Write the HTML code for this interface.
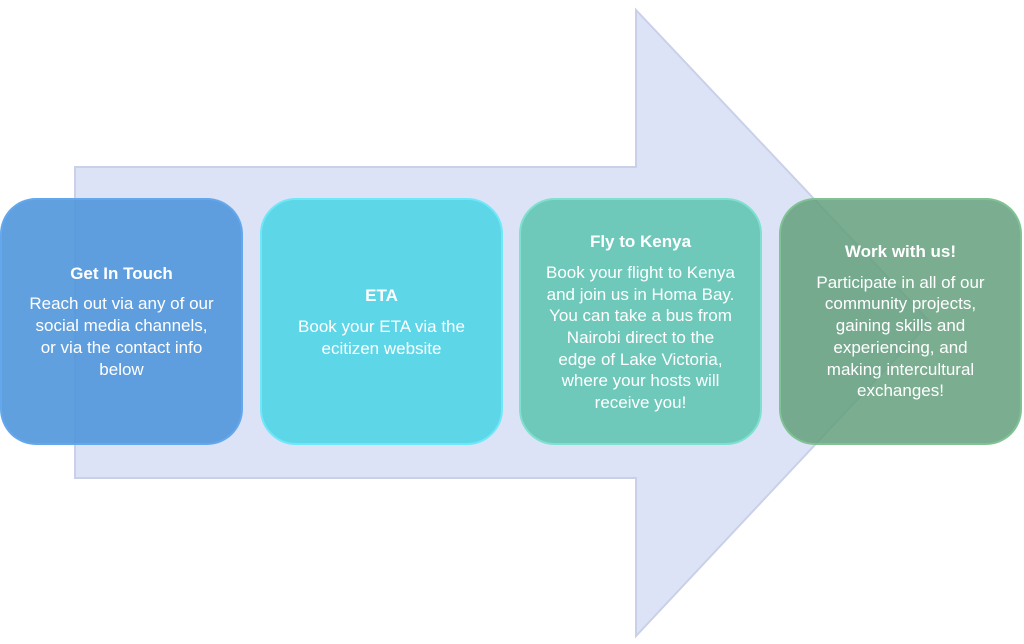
<!DOCTYPE html>
<html><head><style>
body{margin:0;width:1024px;height:644px;background:#fff;position:relative;overflow:hidden;font-family:"Liberation Sans",sans-serif}
.b{position:absolute;top:198px;width:243px;height:247px;border-radius:36px;box-sizing:border-box;color:#fff;text-align:center;display:flex;flex-direction:column;justify-content:center;font-size:17px;line-height:21.7px;padding:0 4px;white-space:nowrap}
.b h{display:block;font-weight:bold;margin-bottom:9px;font-size:17px}
</style></head><body>
<svg width="1024" height="644" style="position:absolute;left:0;top:0">
<polygon points="75,167 636,167 636,10 930,322 636,636 636,478 75,478" fill="#dde3f7" stroke="#c9d0e8" stroke-width="2"/>
</svg>
<div class="b" style="left:0;background:rgba(80,150,220,0.9);border:2px solid rgba(100,170,240,0.8)"><h>Get In Touch</h>Reach out via any of our<br>social media channels,<br>or via the contact info<br>below</div>
<div class="b" style="left:260px;background:#5dd6e8;border:2px solid #6ee8f8;padding-top:2px"><h>ETA</h>Book your ETA via the<br>ecitizen website</div>
<div class="b" style="left:519px;background:#6fc9ba;border:2px solid #80e0d0;padding-top:2px"><h>Fly to Kenya</h>Book your flight to Kenya<br>and join us in Homa Bay.<br>You can take a bus from<br>Nairobi direct to the<br>edge of Lake Victoria,<br>where your hosts will<br>receive you!</div>
<div class="b" style="left:779px;background:rgba(100,160,125,0.85);border:2px solid rgba(130,200,150,0.8);padding-bottom:0"><h>Work with us!</h>Participate in all of our<br>community projects,<br>gaining skills and<br>experiencing, and<br>making intercultural<br>exchanges!</div>
</body></html>
